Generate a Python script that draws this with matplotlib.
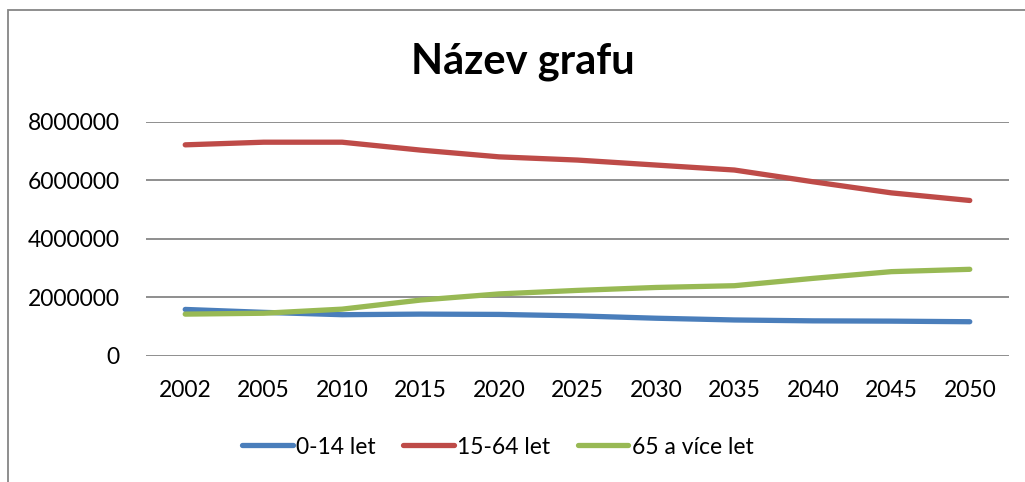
import matplotlib
matplotlib.use("Agg")
import matplotlib.pyplot as plt
from matplotlib.patches import Rectangle

plt.rcParams['font.family'] = ['Lato', 'DejaVu Sans']

# data
years = ['2002', '2005', '2010', '2015', '2020', '2025', '2030', '2035', '2040', '2045', '2050']
age_0_14 = [1590000, 1490000, 1410000, 1430000, 1420000, 1370000, 1290000, 1230000, 1200000, 1190000, 1170000]
age_15_64 = [7210000, 7300000, 7300000, 7030000, 6800000, 6690000, 6520000, 6350000, 5950000, 5570000, 5310000]
age_65_plus = [1430000, 1460000, 1600000, 1910000, 2120000, 2240000, 2340000, 2400000, 2650000, 2880000, 2960000]
yticks = [0, 2000000, 4000000, 6000000, 8000000]

fig = plt.figure(figsize=(10.25, 4.82), dpi=100)
ax = fig.add_axes([146 / 1025, 1 - 356 / 482, (1009 - 146) / 1025, (356 - 121.7) / 482])

x = list(range(len(years)))
ax.plot(x, age_0_14, color='#4a7ebb', lw=3.8, solid_capstyle='round', label='0-14 let')
ax.plot(x, age_15_64, color='#be4b48', lw=3.8, solid_capstyle='round', label='15-64 let')
ax.plot(x, age_65_plus, color='#98b954', lw=3.8, solid_capstyle='round', label='65 a více let')

ax.set_xlim(-0.5, len(years) - 0.5)
ax.set_ylim(0, 8000000)
ax.set_xticks(x)
ax.set_xticklabels(years)
ax.set_yticks(yticks)
ax.set_yticklabels([str(v) for v in yticks])
ax.tick_params(length=0, labelsize=16.5)
ax.tick_params(axis='x', pad=17)
ax.tick_params(axis='y', pad=19)
ax.grid(axis='y', color='#868686', lw=1.3)
ax.set_axisbelow(True)
for s in ax.spines.values():
    s.set_visible(False)

fig.text(523 / 1025, 1 - 62 / 482, 'Název grafu', ha='center', va='center',
         fontsize=30, fontweight='bold')

fig.legend(loc='center', bbox_to_anchor=(498 / 1025, 1 - 447 / 482), ncol=3, frameon=False,
           fontsize=16.5, handlelength=2.2, handletextpad=0.15, columnspacing=1.2)

# outer chart border
fig.patches.append(Rectangle((8 / 1025, -0.1), 1.2, 1 - 10 / 482 + 0.1, transform=fig.transFigure,
                             fill=False, edgecolor='#868686', lw=1.3))

fig.savefig('out.png', dpi=100)
